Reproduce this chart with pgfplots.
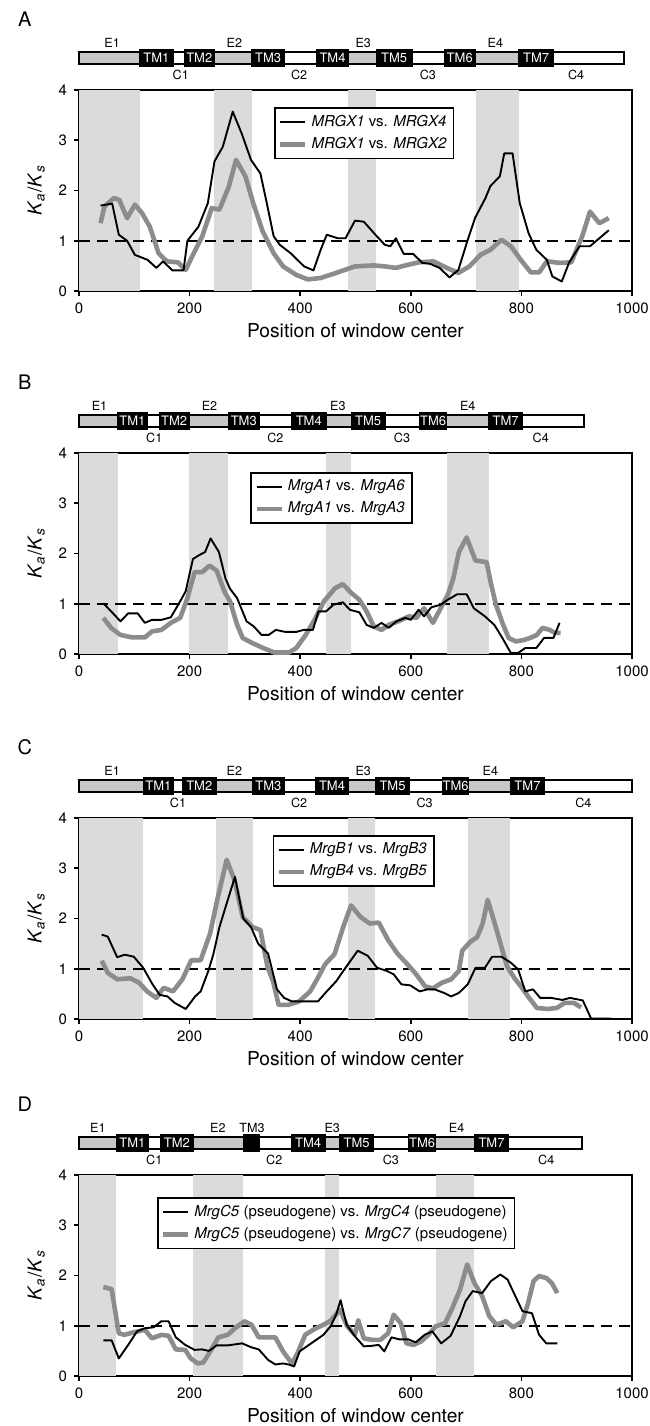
\documentclass[border=0pt]{standalone}
\usepackage{fontspec}
\setmainfont{TeX Gyre Heros}
\usepackage{pgfplots}
\pgfplotsset{compat=1.18}
\usetikzlibrary{calc}

\definecolor{bandc}{gray}{0.86}
\definecolor{domc}{gray}{0.78}
\definecolor{serc}{gray}{0.55}

\newcommand{\fs}[1]{\fontsize{#1}{#1}\selectfont}

\pgfplotsset{
  panel/.style={
    scale only axis, width=276.5pt, height=100.5pt, anchor=south west,
    xmin=0, xmax=1000, ymin=0, ymax=4, clip=false,
    xtick={0,200,...,1000}, ytick={0,1,2,3,4},
    tick align=outside, xtick pos=bottom, ytick pos=left,
    major tick length=2.5pt,
    axis line style={line width=0.9pt},
    every tick/.style={black, line width=0.8pt},
    tick label style={font=\fs{7.5}},
    /pgf/number format/assume math mode=true, /pgf/number format/1000 sep={},
    xlabel={Position of window center}, xlabel style={font=\fs{9.6}, yshift=2pt},
    ylabel={\textit{K}\textsubscript{\textit{a}}/\textit{K}\textsubscript{\textit{s}}},
    ylabel style={font=\fs{9.6}},
    legend style={anchor=north west, draw=black, line width=0.8pt, font=\fs{7.5},
      inner sep=1.5pt, cells={anchor=west}},
    legend image code/.code={\draw[#1] (0pt,0pt) -- (12.5pt,0pt);},
    reverse legend,
  },
  blk/.style={black, line width=0.95pt, line join=round},
  gry/.style={serc, line width=2.3pt, line join=round},
}

% shading and protein diagram helpers
\newcommand{\band}[2]{\addplot[forget plot, draw=none, fill=bandc] coordinates {(#1,0)(#2,0)(#2,4)(#1,4)} -- cycle;}
\newcommand{\pbar}[1]{\addplot[forget plot, draw=none, fill=white] coordinates {(0,4.52)(#1,4.52)(#1,4.76)(0,4.76)} -- cycle;}
\newcommand{\pout}[1]{\addplot[forget plot, draw=black, line width=0.8pt] coordinates {(0,4.52)(#1,4.52)(#1,4.76)(0,4.76)} -- cycle;}
\newcommand{\eseg}[2]{\addplot[forget plot, draw=none, fill=domc] coordinates {(#1,4.52)(#2,4.52)(#2,4.76)(#1,4.76)} -- cycle;}
\newcommand{\tm}[3]{\addplot[forget plot, draw=black, fill=black, line width=0.4pt] coordinates {(#1,4.47)(#2,4.47)(#2,4.81)(#1,4.81)} -- cycle;
  \node[text=white, font=\fs{6.5}, inner sep=0pt] at ($(axis cs:#1,4.64)!0.5!(axis cs:#2,4.64)$) {#3};}
\newcommand{\lab}[3]{\node[font=\fs{6.3}, inner sep=0pt] at (axis cs:#1,#2) {#3};}
\newcommand{\unity}{\addplot[forget plot, black, line width=0.85pt, dash pattern=on 5.5pt off 3.5pt] coordinates {(0,1)(1000,1)};}

\begin{document}
\begin{tikzpicture}
\useasboundingbox (0,0) rectangle (324.5pt,-713pt);

% ---------------- A ----------------
\begin{axis}[panel, at={(39.5pt,-145.5pt)},
  legend style={at={(axis description cs:0.353,0.915)}}]
  \band{0}{110}\band{245}{312}\band{487}{537}\band{717}{795}
  \pbar{985}\eseg{0}{110}\eseg{245}{312}\eseg{487}{537}\eseg{717}{795}\pout{985}
  \tm{110}{170}{TM1}\tm{190}{245}{TM2}\tm{312}{372}{TM3}\tm{430}{487}{TM4}
  \tm{537}{603}{TM5}\tm{660}{717}{TM6}\tm{795}{858}{TM7}
  \lab{60}{4.94}{E1}\lab{281}{4.94}{E2}\lab{514}{4.94}{E3}\lab{753}{4.94}{E4}
  \lab{184}{4.30}{C1}\lab{398}{4.30}{C2}\lab{631}{4.30}{C3}\lab{899}{4.30}{C4}
  \unity
  \addplot[gry] coordinates {(39,1.35)(46,1.68)(63,1.85)(73,1.81)(87,1.45)(101,1.72)(114,1.55)(128,1.28)(144,0.75)(159,0.59)(179,0.57)(193,0.42)(206,0.72)(223,1.09)(240,1.65)(254,1.62)(271,2.08)(284,2.61)(301,2.28)(315,1.75)(332,1.19)(352,0.75)(369,0.49)(393,0.32)(414,0.23)(437,0.26)(465,0.36)(499,0.49)(533,0.51)(553,0.49)(573,0.46)(594,0.52)(614,0.57)(641,0.59)(665,0.46)(686,0.36)(706,0.49)(726,0.72)(744,0.82)(764,1.02)(781,0.89)(801,0.59)(817,0.37)(832,0.37)(846,0.59)(869,0.56)(890,0.57)(910,1.09)(924,1.58)(941,1.35)(958,1.45)};
  \addlegendentry{\textit{MRGX1} vs. \textit{MRGX2}}
  \addplot[blk] coordinates {(39,1.70)(60,1.74)(72,1.12)(87,1.00)(101,0.72)(124,0.62)(140,0.46)(152,0.59)(169,0.41)(189,0.41)(196,1.00)(216,1.28)(233,1.75)(245,2.58)(260,2.87)(278,3.57)(294,3.14)(311,2.61)(328,2.34)(339,1.78)(352,1.09)(363,0.92)(383,0.75)(407,0.49)(424,0.41)(437,0.82)(448,1.12)(468,1.05)(482,1.05)(499,1.40)(515,1.38)(536,1.12)(553,0.92)(563,0.89)(573,1.05)(587,0.74)(604,0.74)(621,0.56)(635,0.54)(652,0.46)(670,0.27)(686,0.42)(701,0.95)(716,1.45)(735,1.85)(744,2.09)(761,2.28)(769,2.74)(784,2.74)(797,1.75)(813,1.15)(827,0.82)(846,0.62)(856,0.29)(873,0.19)(886,0.56)(905,0.89)(924,0.89)(941,1.05)(958,1.21)};
  \addlegendentry{\textit{MRGX1} vs. \textit{MRGX4}}
  \node[font=\fs{10}] at (axis cs:-98,5.4) {A};
\end{axis}

% ---------------- B ----------------
\begin{axis}[panel, at={(39.5pt,-327pt)},
  legend style={at={(axis description cs:0.31,0.905)}}]
  \band{0}{70}\band{199}{270}\band{447}{492}\band{665}{741}
  \pbar{913}\eseg{0}{70}\eseg{199}{270}\eseg{447}{492}\eseg{665}{741}\pout{913}
  \tm{70}{123}{TM1}\tm{145}{199}{TM2}\tm{270}{326}{TM3}\tm{384}{447}{TM4}
  \tm{492}{554}{TM5}\tm{616}{665}{TM6}\tm{741}{802}{TM7}
  \lab{37}{4.94}{E1}\lab{236}{4.94}{E2}\lab{468}{4.94}{E3}\lab{703}{4.94}{E4}
  \lab{136}{4.30}{C1}\lab{355}{4.30}{C2}\lab{584}{4.30}{C3}\lab{835}{4.30}{C4}
  \unity
  \addplot[gry] coordinates {(44,0.72)(58,0.52)(75,0.38)(96,0.33)(119,0.33)(132,0.45)(149,0.48)(166,0.62)(183,0.72)(196,1.11)(209,1.63)(223,1.63)(236,1.76)(249,1.66)(263,1.24)(273,1.05)(286,0.58)(296,0.32)(313,0.22)(333,0.12)(353,0.03)(380,0.03)(393,0.12)(410,0.38)(426,0.68)(443,1.05)(463,1.31)(477,1.39)(493,1.21)(507,1.08)(520,0.85)(533,0.55)(547,0.48)(560,0.58)(577,0.65)(597,0.75)(610,0.72)(624,0.91)(640,0.62)(654,0.91)(667,1.18)(677,1.51)(687,2.03)(701,2.32)(717,1.86)(737,1.83)(745,1.40)(754,0.98)(767,0.58)(777,0.32)(790,0.25)(805,0.28)(818,0.33)(828,0.38)(838,0.52)(851,0.48)(861,0.42)(871,0.42)};
  \addlegendentry{\textit{MrgA1} vs. \textit{MrgA3}}
  \addplot[blk] coordinates {(44,1.01)(58,0.85)(75,0.65)(89,0.81)(106,0.81)(119,0.62)(132,0.68)(149,0.68)(166,0.73)(183,1.05)(193,1.25)(206,1.89)(216,1.96)(228,2.03)(238,2.30)(253,2.03)(265,1.50)(273,1.30)(286,1.11)(303,0.65)(316,0.55)(330,0.38)(343,0.38)(356,0.48)(373,0.44)(393,0.44)(406,0.48)(423,0.48)(433,0.85)(447,0.85)(460,0.98)(477,1.03)(490,0.88)(507,0.83)(520,0.58)(533,0.52)(547,0.62)(560,0.52)(574,0.65)(590,0.72)(600,0.68)(614,0.88)(624,0.75)(637,0.93)(654,0.98)(667,1.08)(684,1.19)(701,1.19)(714,0.91)(734,0.75)(751,0.58)(764,0.35)(781,0.02)(794,0.02)(807,0.12)(827,0.12)(841,0.32)(858,0.32)(869,0.62)};
  \addlegendentry{\textit{MrgA1} vs. \textit{MrgA6}}
  \node[font=\fs{10}] at (axis cs:-98,5.4) {B};
\end{axis}

% ---------------- C ----------------
\begin{axis}[panel, at={(39.5pt,-509.5pt)},
  legend style={at={(axis description cs:0.35,0.915)}}]
  \band{0}{116}\band{248}{314}\band{487}{536}\band{704}{780}
  \pbar{1000}\eseg{0}{116}\eseg{248}{314}\eseg{487}{536}\eseg{704}{780}\pout{1000}
  \tm{116}{171}{TM1}\tm{187}{248}{TM2}\tm{314}{371}{TM3}\tm{428}{487}{TM4}
  \tm{536}{598}{TM5}\tm{658}{704}{TM6}\tm{780}{842}{TM7}
  \lab{60}{4.94}{E1}\lab{281}{4.94}{E2}\lab{514}{4.94}{E3}\lab{744}{4.94}{E4}
  \lab{179}{4.30}{C1}\lab{398}{4.30}{C2}\lab{625}{4.30}{C3}\lab{912}{4.30}{C4}
  \unity
  \addplot[gry] coordinates {(41,1.16)(52,0.92)(69,0.79)(93,0.81)(109,0.72)(123,0.55)(140,0.42)(153,0.62)(170,0.55)(187,0.79)(203,1.17)(220,1.17)(237,1.70)(250,2.37)(267,3.17)(281,2.77)(296,2.03)(314,1.83)(328,1.77)(341,1.03)(351,0.75)(361,0.28)(378,0.28)(398,0.35)(418,0.55)(432,0.82)(445,1.09)(462,1.29)(479,1.87)(492,2.26)(509,2.03)(526,1.90)(542,1.92)(559,1.57)(576,1.30)(593,1.10)(609,0.90)(626,0.65)(640,0.61)(656,0.72)(673,0.79)(687,0.96)(693,1.36)(707,1.53)(720,1.63)(730,1.90)(739,2.37)(750,1.97)(764,1.43)(774,1.05)(787,0.82)(801,0.62)(814,0.42)(828,0.22)(848,0.20)(864,0.22)(878,0.32)(895,0.32)(908,0.23)};
  \addlegendentry{\textit{MrgB4} vs. \textit{MrgB5}}
  \addplot[blk] coordinates {(41,1.68)(52,1.64)(69,1.23)(83,1.28)(99,1.24)(116,1.02)(133,0.69)(146,0.48)(160,0.45)(173,0.32)(193,0.20)(210,0.45)(220,0.55)(234,0.96)(243,1.29)(254,1.83)(269,2.37)(282,2.83)(297,2.00)(311,1.83)(324,1.50)(342,1.30)(358,0.59)(371,0.42)(385,0.35)(405,0.35)(432,0.35)(448,0.55)(465,0.75)(482,1.02)(504,1.36)(522,1.26)(539,1.02)(556,0.96)(569,0.89)(583,0.69)(599,0.67)(616,0.55)(630,0.59)(643,0.59)(660,0.52)(673,0.45)(687,0.52)(703,0.69)(717,1.02)(734,1.02)(747,1.24)(764,1.24)(781,1.12)(794,0.99)(807,0.55)(821,0.59)(834,0.42)(854,0.42)(874,0.38)(888,0.42)(911,0.37)(926,0.01)(962,0.01)};
  \addlegendentry{\textit{MrgB1} vs. \textit{MrgB3}}
  \node[font=\fs{10}] at (axis cs:-98,5.4) {C};
\end{axis}

% ---------------- D ----------------
\begin{axis}[panel, at={(39.5pt,-688pt)},
  legend style={at={(axis description cs:0.141,0.89)}}]
  \band{0}{67}\band{206}{297}\band{445}{471}\band{645}{715}
  \pbar{910}\eseg{0}{67}\eseg{206}{297}\eseg{445}{471}\eseg{645}{715}\pout{910}
  \tm{67}{126}{TM1}\tm{148}{206}{TM2}\tm{297}{326}{}\tm{384}{445}{TM4}
  \tm{471}{533}{TM5}\tm{596}{645}{TM6}\tm{715}{777}{TM7}
  \lab{34}{4.94}{E1}\lab{251}{4.94}{E2}\lab{313}{4.94}{TM3}\lab{458}{4.94}{E3}\lab{683}{4.94}{E4}
  \lab{136}{4.30}{C1}\lab{353}{4.30}{C2}\lab{564}{4.30}{C3}\lab{845}{4.30}{C4}
  \unity
  \addplot[gry] coordinates {(44,1.77)(59,1.73)(72,0.85)(82,0.82)(99,0.87)(119,0.92)(132,0.75)(149,0.82)(162,0.80)(175,0.53)(192,0.52)(202,0.35)(215,0.25)(225,0.27)(239,0.52)(252,0.77)(269,0.82)(282,0.95)(299,1.09)(312,1.02)(325,0.77)(342,0.77)(355,0.77)(369,0.49)(385,0.25)(395,0.45)(409,0.82)(425,0.93)(442,1.02)(455,1.10)(472,1.32)(485,0.99)(499,0.82)(505,1.11)(515,0.75)(529,0.72)(545,0.72)(559,0.85)(569,1.22)(582,1.05)(592,0.65)(605,0.62)(619,0.69)(632,0.82)(645,0.99)(662,1.05)(675,1.35)(689,1.72)(702,2.22)(715,1.85)(729,1.59)(742,1.19)(755,1.02)(772,1.09)(785,0.97)(802,1.09)(812,1.45)(822,1.89)(832,1.99)(845,1.95)(855,1.85)(865,1.65)};
  \addlegendentry{\textit{MrgC5} (pseudogene) vs. \textit{MrgC7} (pseudogene)}
  \addplot[blk] coordinates {(44,0.71)(59,0.71)(72,0.35)(89,0.62)(105,0.89)(119,0.95)(135,0.97)(149,1.09)(162,1.09)(175,0.77)(192,0.62)(209,0.52)(222,0.53)(235,0.50)(249,0.61)(269,0.61)(295,0.65)(312,0.57)(325,0.53)(342,0.32)(355,0.23)(369,0.25)(379,0.23)(389,0.19)(399,0.49)(412,0.59)(429,0.72)(442,0.82)(455,0.99)(465,1.22)(473,1.51)(484,1.02)(499,0.79)(515,0.59)(529,0.60)(542,0.62)(552,0.49)(565,0.77)(579,0.73)(595,0.73)(609,0.67)(625,0.82)(639,0.89)(655,0.65)(672,0.80)(689,1.19)(699,1.49)(712,1.69)(729,1.65)(745,1.89)(762,2.02)(775,1.92)(789,1.59)(802,1.29)(819,1.25)(832,0.82)(845,0.65)(865,0.65)};
  \addlegendentry{\textit{MrgC5} (pseudogene) vs. \textit{MrgC4} (pseudogene)}
  \node[font=\fs{10}] at (axis cs:-98,5.4) {D};
\end{axis}
\end{tikzpicture}
\end{document}
